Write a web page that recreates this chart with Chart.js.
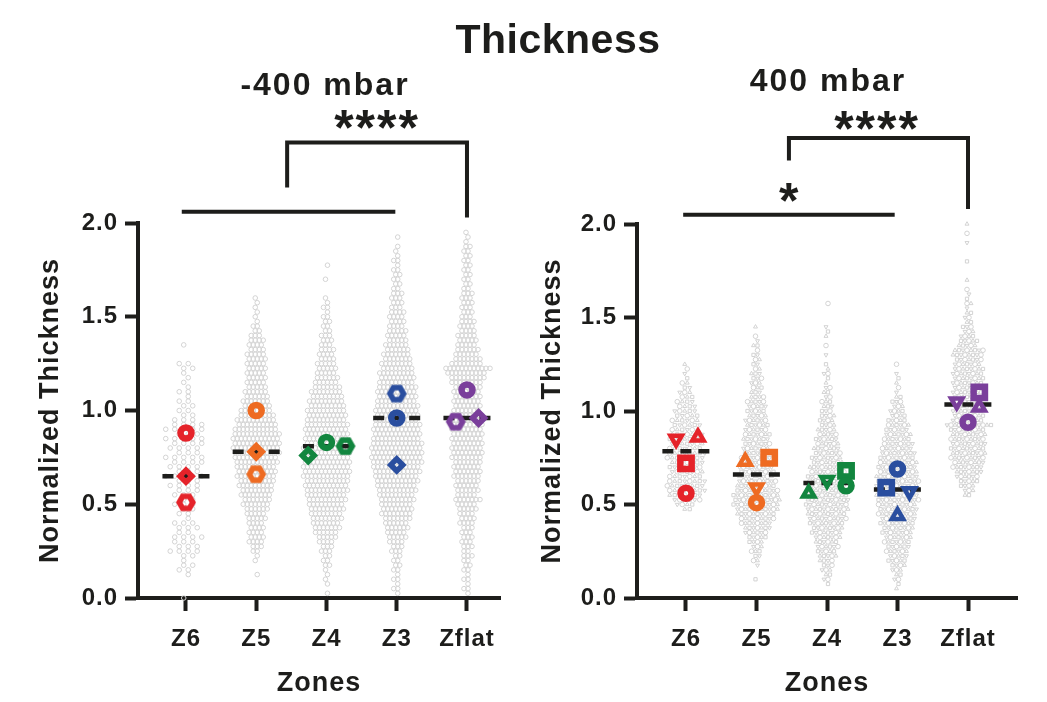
<!DOCTYPE html>
<html lang="en">
<head>
<meta charset="UTF-8" />
<title>Thickness</title>
<script src="https://cdn.jsdelivr.net/npm/chart.js"></script>
<style>
  body {
    margin: 0;
    background: #fff;
    font-family: "Liberation Sans", Arial, Helvetica, sans-serif;
    color: #1d1d1b;
  }
  #wrap { position: relative; width: 1047px; height: 702px; overflow: hidden; }
  canvas { position: absolute; top: 0; }
  #neg { left: 0; }
  #pos { left: 520px; }
  .head {
    position: absolute;
    font-weight: bold;
    line-height: 1;
    white-space: nowrap;
    transform: translateX(-50%);
  }
  #title { left: 558px; top: 19px; font-size: 41px; letter-spacing: 0.5px; }
  #sub-neg { left: 325px; top: 68px; font-size: 32px; letter-spacing: 2px; }
  #sub-pos { left: 828px; top: 64px; font-size: 32px; letter-spacing: 2px; }
</style>
</head>
<body>
<div id="wrap">
  <canvas id="neg" width="520" height="702"></canvas>
  <canvas id="pos" width="527" height="702"></canvas>
  <div class="head" id="title">Thickness</div>
  <div class="head" id="sub-neg">-400 mbar</div>
  <div class="head" id="sub-pos">400 mbar</div>
</div>

<script>
  const zones = ['Z6', 'Z5', 'Z4', 'Z3', 'Zflat'];
  const yTicks = [0, 0.5, 1.0, 1.5, 2.0];
  const zoneColors = ['#e5232a', '#ee6b22', '#12863f', '#2a4e9f', '#7a3f9b'];

  // cells per 0.025 bin of normalized thickness, counted up from 0
  const binWidth = 0.025;

  // -400 mbar
  const negZ6 = [1,0,0,0,0,1,2,2,1,2, 4,3,3,4,2,3,3,1,2,2, 3,2,3,3,4,3,5,3,4,4,
                 5,3,4,4,5,3,5,4,3,2, 2,2,2,1,2,1,1,1,1,2, 2,0,0,0,1];
  const negZ5 = [0,0,0,0,0,1,0,0,1,1, 2,3,4,4,4,4,4,5,5,6, 7,7,8,8,9,9,10,10,10,11,
                 11,12,12,12,12,12,11,10,10,9, 8,7,7,6,6,5,5,5,5,5, 5,5,5,4,4,4,3,2,2,1,
                 1,1,1,1,1];
  const negZ4 = [0,1,0,1,1,1,1,2,2,2, 3,3,4,5,6,7,7,8,8,9, 9,10,10,11,11,11,12,12,12,12,
                 12,12,12,11,11,11,11,11,10,10, 10,9,9,8,8,7,6,6,5,5, 5,4,4,4,3,3,3,2,2,2,
                 2,1,2,1,1,0,0,0,1,0, 0,1];
  const negZ3 = [0,1,2,1,2,1,2,2,2,2, 3,3,4,5,5,6,6,7,8,8, 8,9,9,10,10,11,11,12,12,13,
                 13,13,13,13,12,12,12,12,11,11, 11,11,10,10,10,10,9,9,9,8, 8,7,7,6,6,5,5,5,4,4,
                 4,4,3,3,3,3,2,2,2,2, 2,1,2,1,1,1,0,1];
  const negZflat = [0,1,2,1,2,1,2,2,2,3, 2,3,3,3,3,3,4,4,4,5, 5,7,5,6,6,6,7,7,7,7,
                    8,8,8,8,8,8,8,8,8,8, 7,7,7,7,7,7,8,9,10,12, 8,7,6,6,5,5,5,4,4,4,
                    3,3,3,3,3,3,2,2,2,2, 2,2,2,2,2,2,1,1,1];

  // 400 mbar
  const posZ6 = [0,0,0,0,0,0,0,0,0,0, 0,0,0,0,0,0,0,0,0,2, 4,6,7,8,8,8,7,7,7,7,
                 8,8,7,7,7,7,6,6,6,5, 5,4,4,3,3,2,2,1,1,1, 1];
  const posZ5 = [0,0,0,0,1,0,0,1,2,2, 3,3,4,5,6,7,8,9,10,11, 12,12,12,11,10,10,9,9,9,8,
                 8,7,7,7,7,7,6,6,6,5, 5,5,5,4,3,3,3,3,3,2, 2,2,2,1,2,1,1,0,1];
  const posZ4 = [0,0,0,1,2,2,3,3,4,5, 5,6,6,7,8,8,9,10,10,11, 11,11,11,11,10,10,10,9,9,8,
                 8,7,7,6,6,5,5,4,4,4, 3,3,3,2,2,2,1,1,2,1, 1,0,1,0,1,0,1,1,1,0,
                 0,0,0,1];
  const posZ3 = [0,0,1,1,2,2,3,4,5,5, 6,6,7,7,8,8,9,9,10,10, 10,11,11,11,11,11,11,10,10,10,
                 9,9,8,8,7,7,6,6,5,4, 4,3,3,2,1,1,1,1,1,0, 1];
  const posZflat = [0,0,0,0,0,0,0,0,0,0, 0,0,0,0,0,0,0,0,0,0, 0,0,2,3,4,5,6,7,8,8,
                    9,9,9,9,9,9,9,12,8,8, 8,8,8,8,8,8,8,8,8,8, 7,7,8,8,5,5,4,3,3,2,
                    2,2,1,2,1,1,1,0,1,0, 0,0,1,0,0,0,1,0,1,0, 1];

  // replicate means per zone (Z6, Z5, Z4, Z3, Zflat)
  const negCircle  = [0.88, 1.00, 0.83, 0.96, 1.11];
  const negDiamond = [0.65, 0.78, 0.76, 0.71, 0.96];
  const negHexagon = [0.51, 0.66, 0.81, 1.09, 0.94];

  const posCircle = [0.56, 0.51, 0.60, 0.69, 0.94];
  const posSquare = [0.72, 0.75, 0.68, 0.59, 1.10];
  const posUp     = [0.86, 0.73, 0.56, 0.44, 1.02];
  const posDown   = [0.85, 0.59, 0.63, 0.57, 1.05];

  // horizontal nudges of the replicate symbols, in zone widths
  const negCircleShift  = [0, 0, 0, 0, 0];
  const negDiamondShift = [0, 0, -0.26, 0, 0.165];
  const negHexagonShift = [0, 0, 0.27, 0, -0.16];
  const posCircleShift = [0, 0, 0.27, 0, 0];
  const posSquareShift = [0, 0.18, 0.27, -0.16, 0.16];
  const posUpShift     = [0.17, -0.16, -0.26, 0, 0.16];
  const posDownShift   = [-0.14, 0, 0, 0.17, -0.16];

  const INK = '#1d1d1b';
  const CELL = '#d3d3d3';
  const FONT = '"Liberation Sans", Arial, Helvetica, sans-serif';

  Chart.defaults.font.family = FONT;
  Chart.defaults.color = INK;

  function median(vals) {
    const s = [...vals].sort((a, b) => a - b);
    const m = s.length >> 1;
    return s.length % 2 ? s[m] : (s[m - 1] + s[m]) / 2;
  }

  // thick hexagon outline with an open centre
  function hexagonMark(color) {
    const c = document.createElement('canvas');
    c.width = c.height = 24;
    const g = c.getContext('2d');
    g.strokeStyle = color;
    g.lineWidth = 5.5;
    g.beginPath();
    for (let k = 0; k < 6; k++) {
      const a = Math.PI / 3 * k;
      const px = 12 + 6.8 * Math.cos(a), py = 12 + 6.8 * Math.sin(a);
      if (k) g.lineTo(px, py); else g.moveTo(px, py);
    }
    g.closePath();
    g.stroke();
    return c;
  }

  // rows of cells spread sideways around each zone
  function swarm(countsByZone, gaps, pxPerZone) {
    const pts = [];
    countsByZone.forEach((counts, zi) => {
      const step = gaps[zi] / pxPerZone;
      counts.forEach((n, i) => {
        const stagger = i % 2 ? 0.25 : -0.25;
        for (let k = 0; k < n; k++) {
          pts.push({ x: zi + (k - (n - 1) / 2 + stagger) * step, y: i * binWidth });
        }
      });
    });
    return pts;
  }

  const starLabels = {
    id: 'starLabels',
    afterDatasetsDraw(chart, args, opts) {
      const { ctx, scales: { x, y } } = chart;
      ctx.save();
      ctx.font = 'bold 50px ' + FONT;
      ctx.letterSpacing = '2px';
      ctx.fillStyle = INK;
      ctx.textAlign = 'center';
      ctx.textBaseline = 'alphabetic';
      (opts.items || []).forEach(s => {
        const m = ctx.measureText(s.text);
        const py = y.getPixelForValue(s.y) + (m.actualBoundingBoxAscent - m.actualBoundingBoxDescent) / 2;
        ctx.fillText(s.text, x.getPixelForValue(s.x), py);
      });
      ctx.restore();
    }
  };

  const wideText = {
    id: 'wideText',
    beforeDraw(chart) { chart.ctx.letterSpacing = '1px'; }
  };

  function buildPanel(id, lay, countsByZone, gaps, reps, bars, brackets, stars, cellShapes) {
    const areaWidth = lay.canvasWidth - lay.padRight - lay.yAxisWidth;
    const pxPerZone = areaWidth / (lay.xMax - lay.xMin);
    const datasets = [];

    datasets.push({
      data: swarm(countsByZone, gaps, pxPerZone),
      order: 4,
      clip: false,
      pointStyle: c => cellShapes[c.dataIndex % cellShapes.length].style,
      pointRotation: c => cellShapes[c.dataIndex % cellShapes.length].rotation,
      pointRadius: 2.3,
      pointBorderWidth: 1,
      pointBorderColor: CELL,
      pointBackgroundColor: 'rgba(0,0,0,0)'
    });

    zones.forEach((z, i) => {
      const m = median(reps.map(r => r.values[i]));
      datasets.push({
        data: [{ x: i - 0.335, y: m }, { x: i + 0.335, y: m }],
        order: 2,
        clip: false,
        showLine: true,
        borderColor: INK,
        borderWidth: 4.5,
        borderDash: [11, 7],
        pointRadius: 0
      });
    });

    bars.forEach(b => {
      datasets.push({
        data: [{ x: b.from, y: b.y }, { x: b.to, y: b.y }],
        order: 2, clip: false, showLine: true,
        borderColor: INK, borderWidth: 4, pointRadius: 0
      });
    });
    brackets.forEach(b => {
      datasets.push({
        data: [{ x: b.from, y: b.dropFrom }, { x: b.from, y: b.top }, { x: b.to, y: b.top }, { x: b.to, y: b.dropTo }],
        order: 2, clip: false, showLine: true,
        borderColor: INK, borderWidth: 4, borderJoinStyle: 'miter', pointRadius: 0
      });
    });

    reps.forEach(r => {
      datasets.push({
        data: r.values.map((v, i) => ({ x: i + r.shift[i], y: v })),
        order: 1,
        clip: false,
        pointStyle: r.style,
        pointRotation: r.rotation || 0,
        pointRadius: r.radius,
        pointBorderWidth: r.border,
        pointBorderColor: zoneColors,
        pointBackgroundColor: 'rgba(0,0,0,0)'
      });
    });

    const axisFont = { size: 24, weight: 'bold' };
    const titleFont = { size: 27, weight: 'bold' };

    return new Chart(document.getElementById(id), {
      type: 'scatter',
      data: { datasets },
      plugins: [wideText, starLabels],
      options: {
        responsive: false,
        animation: false,
        events: [],
        layout: { padding: { left: 0, right: lay.padRight, top: lay.padTop, bottom: 0 } },
        plugins: {
          legend: { display: false },
          tooltip: { enabled: false },
          starLabels: { items: stars }
        },
        scales: {
          x: {
            type: 'linear',
            min: lay.xMin,
            max: lay.xMax,
            afterFit: s => { s.height = 104; },
            afterBuildTicks: s => { s.ticks = zones.map((_, i) => ({ value: i })); },
            ticks: {
              callback: v => zones[v],
              autoSkip: false, maxRotation: 0,
              font: axisFont, color: INK, padding: 14
            },
            grid: { drawOnChartArea: false, tickLength: 13, tickWidth: 4, color: INK },
            border: { width: 4, color: INK },
            title: { display: true, text: 'Zones', font: titleFont, color: INK, padding: { top: 0, bottom: 2 } }
          },
          y: {
            min: 0,
            max: 2,
            afterFit: s => { s.width = lay.yAxisWidth; },
            afterBuildTicks: s => { s.ticks = yTicks.map(v => ({ value: v })); },
            ticks: { callback: v => v.toFixed(1), font: axisFont, color: INK, padding: 7 },
            grid: { drawOnChartArea: false, tickLength: 13, tickWidth: 4, color: INK },
            border: { width: 4, color: INK },
            title: { display: true, text: 'Normalized Thickness', font: titleFont, color: INK, padding: { top: lay.titlePad, bottom: 0 } }
          }
        }
      }
    });
  }

  const negLayout = { canvasWidth: 520, yAxisWidth: 138, padRight: 20, padTop: 223, xMin: -0.683, xMax: 4.47, titlePad: 34 };
  const posLayout = { canvasWidth: 527, yAxisWidth: 117, padRight: 30, padTop: 224, xMin: -0.695, xMax: 4.695, titlePad: 16 };

  buildPanel('neg', negLayout,
    [negZ6, negZ5, negZ4, negZ3, negZflat], [9, 4, 4, 4, 4],
    [
      { values: negCircle,  shift: negCircleShift,  style: 'circle',  radius: 5.5, border: 6.5 },
      { values: negDiamond, shift: negDiamondShift, style: 'rectRot', radius: 6,   border: 5.5 },
      { values: negHexagon, shift: negHexagonShift, style: zoneColors.map(hexagonMark), radius: 9, border: 0 }
    ],
    [{ from: -0.06, to: 2.98, y: 2.06 }],
    [{ from: 1.44, to: 4, top: 2.43, dropFrom: 2.19, dropTo: 2.03 }],
    [{ x: 2.72, y: 2.55, text: '****' }],
    [{ style: 'circle', rotation: 0 }]
  );

  buildPanel('pos', posLayout,
    [posZ6, posZ5, posZ4, posZ3, posZflat], [5, 4, 4, 4, 4],
    [
      { values: posCircle, shift: posCircleShift, style: 'circle',   radius: 5.5, border: 6.5 },
      { values: posSquare, shift: posSquareShift, style: 'rect',     radius: 8,   border: 6.5 },
      { values: posUp,     shift: posUpShift,     style: 'triangle', radius: 6.5, border: 4.5 },
      { values: posDown,   shift: posDownShift,   style: 'triangle', radius: 6.5, border: 4.5, rotation: 180 }
    ],
    [{ from: -0.04, to: 2.96, y: 2.05 }],
    [{ from: 1.46, to: 4, top: 2.46, dropFrom: 2.34, dropTo: 2.08 }],
    [{ x: 2.71, y: 2.556, text: '****' }, { x: 1.47, y: 2.17, text: '*' }],
    [
      { style: 'triangle', rotation: 0 },
      { style: 'rect', rotation: 0 },
      { style: 'triangle', rotation: 180 },
      { style: 'circle', rotation: 0 }
    ]
  );
</script>
</body>
</html>
